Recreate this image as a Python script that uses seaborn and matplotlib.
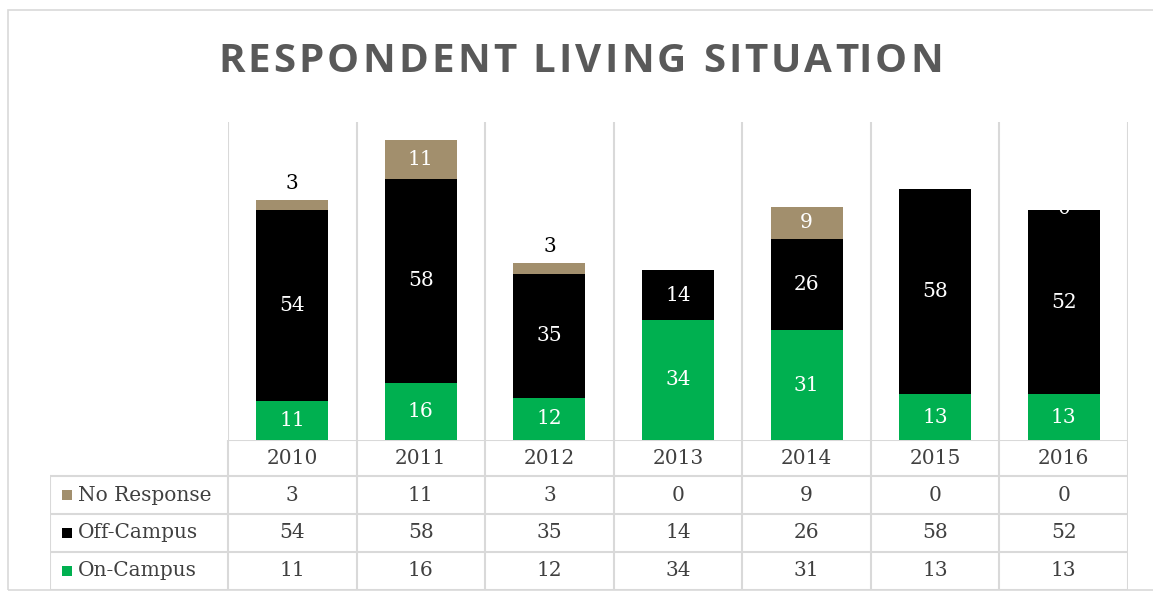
import numpy as np
import pandas as pd
import matplotlib
matplotlib.use("Agg")
import matplotlib.pyplot as plt
from matplotlib.patches import Rectangle
import seaborn as sns

years = ["2010", "2011", "2012", "2013", "2014", "2015", "2016"]
no_response = [3, 11, 3, 0, 9, 0, 0]
off_campus = [54, 58, 35, 14, 26, 58, 52]
on_campus = [11, 16, 12, 34, 31, 13, 13]

series_names = ["No Response", "Off-Campus", "On-Campus"]
series_colors = ["#A28F6D", "#000000", "#00B050"]
title = "RESPONDENT LIVING SITUATION"

sns.set_theme(style="white")
plt.rcParams["font.family"] = ["DejaVu Serif"]

GRID = "#D9D9D9"
TXT = "#404040"

df = pd.DataFrame({"year": years, "no": no_response, "off": off_campus, "on": on_campus})
df["top_off"] = df["on"] + df["off"]
df["top_all"] = df["top_off"] + df["no"]

W, H = 1153, 596
fig = plt.figure(figsize=(W / 100, H / 100), dpi=100)

def fx(px):
    return px / W

def fy(py):
    return 1 - py / H

# outer chart frame
fig.patches.append(Rectangle((fx(8), fy(590)), fx(1160) - fx(8), fy(10) - fy(590),
                             transform=fig.transFigure, fill=False,
                             edgecolor="#D9D9D9", linewidth=1.2))

# letter-spaced title, placed glyph by glyph
renderer = fig.canvas.get_renderer()
tkw = dict(fontsize=29, fontweight="bold", color="#595959",
           family=["Open Sans", "DejaVu Sans"], va="center", ha="left")

def text_w(s):
    t = fig.text(0, 0, s + "|", **tkw)
    w = t.get_window_extent(renderer).width
    t.remove()
    t = fig.text(0, 0, "|", **tkw)
    w -= t.get_window_extent(renderer).width
    t.remove()
    return w

natural = text_w(title)
target_w = 725
gap = (target_w - natural) / (len(title) - 1)
x_start = 218
for k, ch in enumerate(title):
    if ch == " ":
        continue
    xp = x_start + text_w(title[:k]) + k * gap
    fig.text(fx(xp), fy(61), ch, **tkw)

# main plot
L, R, T, B = 228, 1128, 122, 440
ax = fig.add_axes([fx(L), fy(B), fx(R) - fx(L), fy(T) - fy(B)])
bw = 72 / ((R - L) / 7)
sns.barplot(data=df, x="year", y="top_all", color=series_colors[0], width=bw,
            saturation=1, ax=ax, edgecolor="none")
sns.barplot(data=df, x="year", y="top_off", color=series_colors[1], width=bw,
            saturation=1, ax=ax, edgecolor="none")
sns.barplot(data=df, x="year", y="on", color=series_colors[2], width=bw,
            saturation=1, ax=ax, edgecolor="none")
ax.set_xlim(-0.5, 6.5)
ax.set_ylim(0, 90)
ax.set_xlabel("")
ax.set_ylabel("")
ax.set_xticks([])
ax.set_yticks([])
for s in ax.spines.values():
    s.set_visible(False)
for xb in np.arange(-0.5, 7, 1):
    ax.axvline(xb, color=GRID, lw=1.5, zorder=0)

lab_fs = 14.5
for i in range(len(years)):
    ax.text(i, on_campus[i] / 2, str(on_campus[i]), ha="center", va="center",
            color="white", fontsize=lab_fs)
    ax.text(i, on_campus[i] + off_campus[i] / 2, str(off_campus[i]), ha="center",
            va="center", color="white", fontsize=lab_fs)
    nr = no_response[i]
    top = df["top_all"][i]
    if nr >= 5:
        ax.text(i, top - nr / 2, str(nr), ha="center", va="center",
                color="white", fontsize=lab_fs)
    elif nr > 0:
        ax.text(i, top + 2.0, str(nr), ha="center", va="bottom",
                color="black", fontsize=lab_fs)
# Excel's clipped zero label on the last bar
ax.text(6, df["top_all"][6] + 0.4, "0", ha="center", va="center",
        color="white", fontsize=lab_fs, zorder=5)

# data table
TL, TB = 50, 590
tab = fig.add_axes([fx(TL), fy(TB), fx(R) - fx(TL), fy(B) - fy(TB)])
colw = (R - L) / 7
tab.set_xlim(-0.5 - (L - TL) / colw, 6.5)
row_px = [440, 476, 514, 552, 590]
tab.set_ylim(590, 440)
tab.axis("off")

tab.plot([-0.5, 6.5], [row_px[0], row_px[0]], color=GRID, lw=1.5)
for yp in row_px[1:]:
    tab.plot([tab.get_xlim()[0], 6.5], [yp, yp], color=GRID, lw=1.5)
for xb in np.arange(-0.5, 7, 1):
    tab.plot([xb, xb], [440, 590], color=GRID, lw=1.5)
tab.plot([tab.get_xlim()[0]] * 2, [476, 590], color=GRID, lw=1.5)

for i, yr in enumerate(years):
    tab.text(i, (row_px[0] + row_px[1]) / 2, yr, ha="center", va="center",
             color=TXT, fontsize=lab_fs)

rows = [no_response, off_campus, on_campus]
x0 = tab.get_xlim()[0]
for r, (name, vals, col) in enumerate(zip(series_names, rows, series_colors)):
    yc = (row_px[r + 1] + row_px[r + 2]) / 2
    tab.add_patch(Rectangle((x0 + 12 / colw, yc - 5), 10 / colw, 10,
                            facecolor=col, edgecolor="none"))
    tab.text(x0 + 28 / colw, yc, name, ha="left", va="center", color=TXT, fontsize=lab_fs)
    for i, v in enumerate(vals):
        tab.text(i, yc, str(v), ha="center", va="center", color=TXT, fontsize=lab_fs)

fig.savefig("out.png", dpi=100)
